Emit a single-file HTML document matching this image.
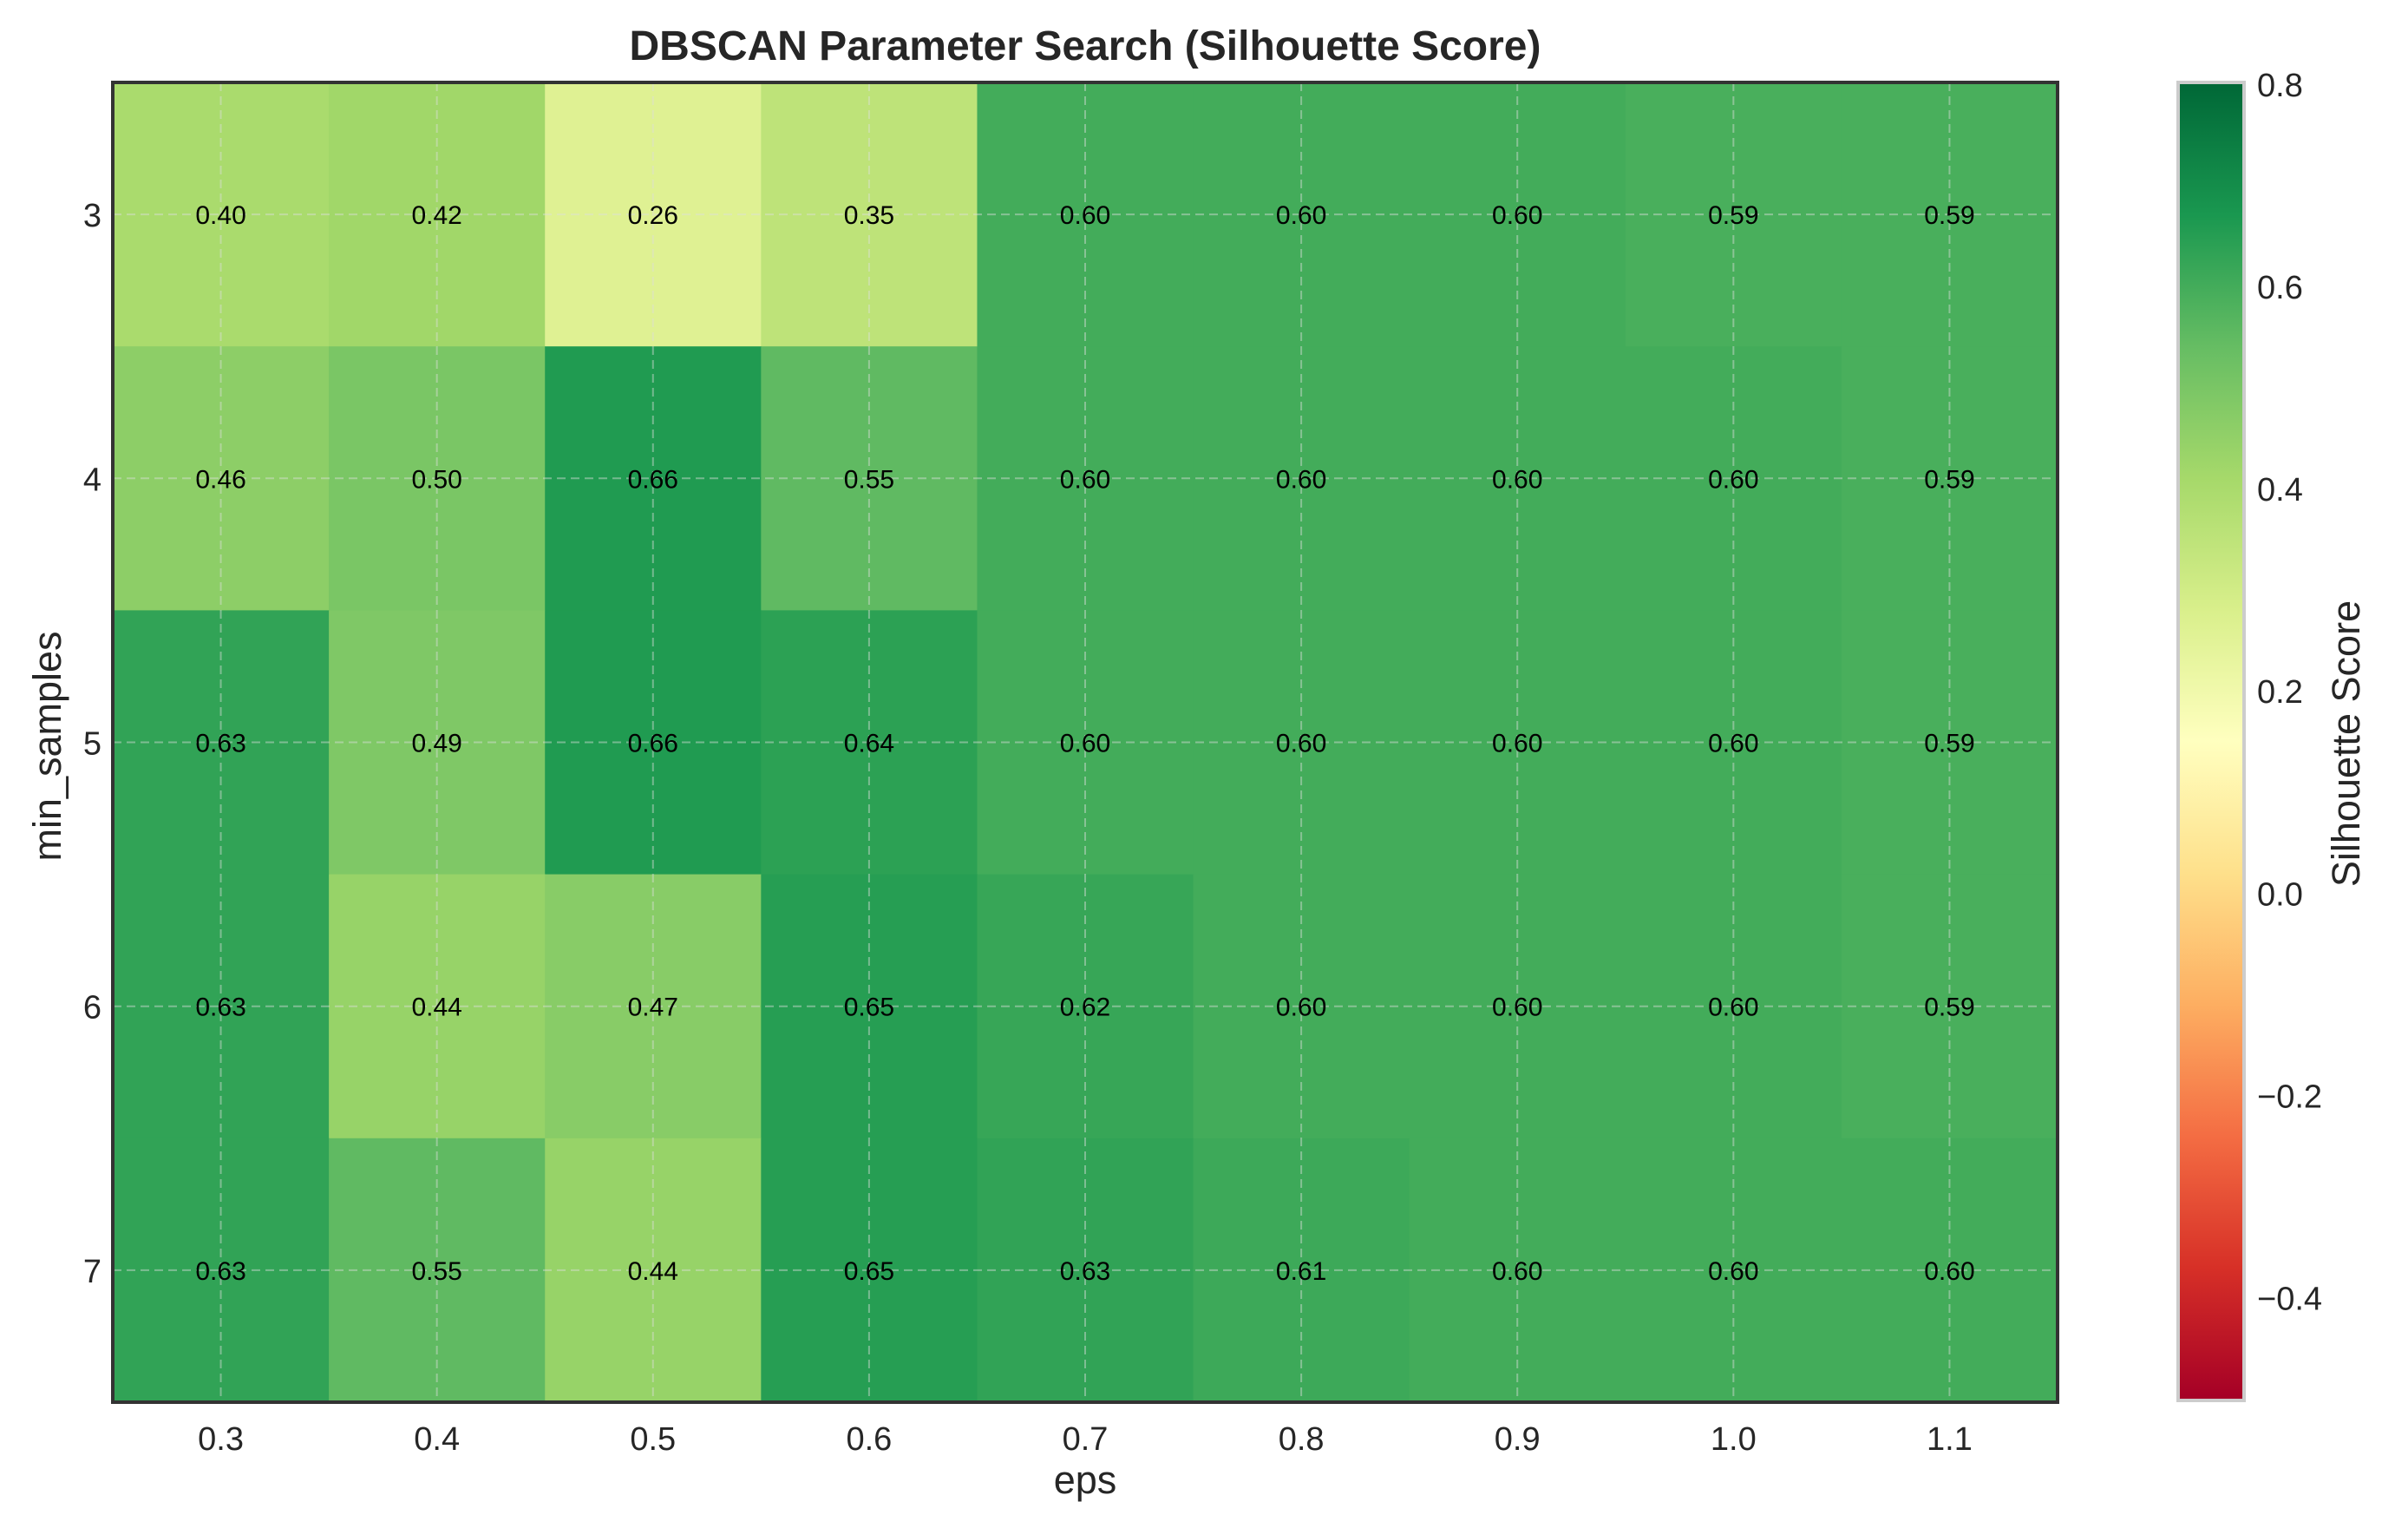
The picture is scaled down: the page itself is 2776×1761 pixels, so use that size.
<!DOCTYPE html>
<html><head><meta charset="utf-8"><style>
html,body{margin:0;padding:0;background:#fff;}
svg{display:block;font-family:"Liberation Sans",Arial,sans-serif;}
</style></head><body>
<svg id="s" width="2776" height="1761" viewBox="0 0 2776 1761" xmlns="http://www.w3.org/2000/svg"></svg>
<script>
const stops=["#a50026","#d73027","#f46d43","#fdae61","#fee08b","#ffffbf","#d9ef8b","#a6d96a","#66bd63","#1a9850","#006837"];
function hx(h){return [1,3,5].map(i=>parseInt(h.substr(i,2),16));}
function cmap(t){t=Math.max(0,Math.min(1,t));let p=t*10,i=Math.min(9,Math.floor(p)),f=p-i;let a=hx(stops[i]),b=hx(stops[i+1]);return "rgb("+a.map((v,k)=>Math.round(v+(b[k]-v)*f)).join(",")+")";}
const vmin=-0.5,vmax=0.8;
const data=[[.40,.42,.26,.35,.60,.60,.60,.59,.59],[.46,.50,.66,.55,.60,.60,.60,.60,.59],[.63,.49,.66,.64,.60,.60,.60,.60,.59],[.63,.44,.47,.65,.62,.60,.60,.60,.59],[.63,.55,.44,.65,.63,.61,.60,.60,.60]];
const L=130,R=2372,T=95,B=1616,cw=(R-L)/9,rh=(B-T)/5;
let o="";
o+='<text x="1251" y="69" text-anchor="middle" font-size="48" font-weight="bold" fill="#262626">DBSCAN Parameter Search (Silhouette Score)</text>';
for(let r=0;r<5;r++)for(let c=0;c<9;c++){
 o+=`<rect x="${L+c*cw}" y="${T+r*rh}" width="${cw+0.6}" height="${rh+0.6}" fill="${cmap((data[r][c]-vmin)/(vmax-vmin))}"/>`;
}
for(let c=0;c<9;c++){let x=L+(c+0.5)*cw;o+=`<line x1="${x}" y1="${T}" x2="${x}" y2="${B}" stroke="#ddd" stroke-opacity="0.45" stroke-width="2" stroke-dasharray="10,6"/>`;}
for(let r=0;r<5;r++){let y=T+(r+0.5)*rh;o+=`<line x1="${L}" y1="${y}" x2="${R}" y2="${y}" stroke="#ddd" stroke-opacity="0.45" stroke-width="2" stroke-dasharray="10,6"/>`;}
for(let r=0;r<5;r++)for(let c=0;c<9;c++){
 o+=`<text x="${L+(c+0.5)*cw}" y="${T+(r+0.5)*rh+11}" text-anchor="middle" font-size="30" fill="#000">${data[r][c].toFixed(2)}</text>`;
}
o+=`<rect x="${L}" y="${T}" width="${R-L}" height="${B-T}" fill="none" stroke="#333" stroke-width="4"/>`;
const xs=["0.3","0.4","0.5","0.6","0.7","0.8","0.9","1.0","1.1"];
xs.forEach((s,c)=>{o+=`<text x="${L+(c+0.5)*cw}" y="1671" text-anchor="middle" font-size="38" fill="#262626">${s}</text>`;});
[3,4,5,6,7].forEach((s,r)=>{o+=`<text x="117" y="${T+(r+0.5)*rh+14}" text-anchor="end" font-size="38" fill="#262626">${s}</text>`;});
o+='<text x="1251" y="1721" text-anchor="middle" font-size="45" fill="#262626">eps</text>';
o+=`<text transform="translate(70,860) rotate(-90)" text-anchor="middle" font-size="45" fill="#262626">min_samples</text>`;
const cx=2513,cw2=72,ct=97,cb=1612;
o+='<defs><linearGradient id="g" x1="0" y1="1" x2="0" y2="0">';
for(let i=0;i<=10;i++)o+=`<stop offset="${i/10}" stop-color="${stops[i]}"/>`;
o+='</linearGradient></defs>';
o+=`<rect x="${cx}" y="${ct}" width="${cw2}" height="${cb-ct}" fill="url(#g)"/>`;
o+=`<rect x="2511" y="95" width="76" height="1519" fill="none" stroke="#ccc" stroke-width="4"/>`;
[0.8,0.6,0.4,0.2,0.0,-0.2,-0.4].forEach(v=>{let y=ct+(vmax-v)/(vmax-vmin)*(cb-ct);
 o+=`<text x="2602" y="${y+14}" font-size="38" fill="#262626">${v<0?"\u2212":""}${Math.abs(v).toFixed(1)}</text>`;});
o+=`<text transform="translate(2720,857) rotate(-90)" text-anchor="middle" font-size="45" fill="#262626">Silhouette Score</text>`;
document.getElementById("s").innerHTML=o;
</script>
</body></html>
